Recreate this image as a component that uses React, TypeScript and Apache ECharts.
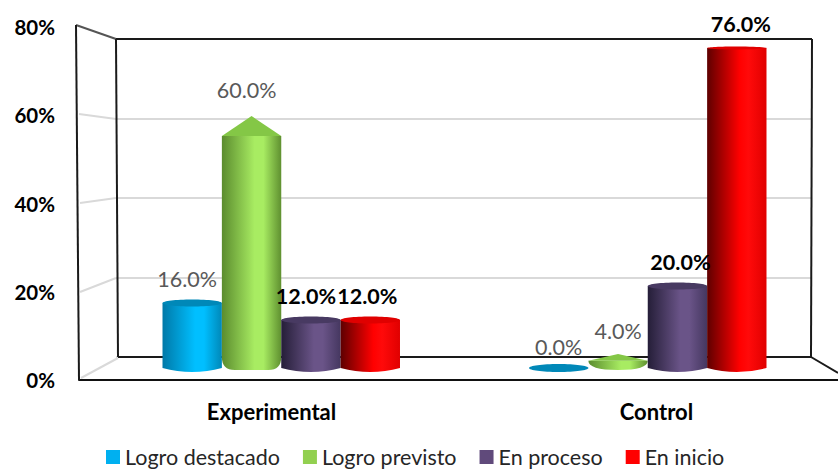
import React, { useEffect, useRef } from "react";
import * as echarts from "echarts";

const categories = ["Experimental", "Control"];
const seriesNames = ["Logro destacado", "Logro previsto", "En proceso", "En inicio"];
const logroDestacado = [16, 0];
const logroPrevisto = [60, 4];
const enProceso = [12, 20];
const enInicio = [12, 76];
const yTicks = [0, 20, 40, 60, 80];
const legendColors = ["#00b0f0", "#92d050", "#604a7b", "#ff0000"];
const bodyStops = [
  ["#0079a8", "#00bfff", "#00bfff", "#0088b8"],
  ["#5b8c2e", "#a8ec62", "#a8ec62", "#5f9030"],
  ["#251e38", "#6a5488", "#6a5488", "#453760"],
  ["#5e0000", "#ff0000", "#ff0a0a", "#e00000"],
];
const topColors = ["#0088b8", "#84c746", "#483a62", "#e00000"];
const labelBold = [false, false, true, true];
const labelShift = [
  [-5, -5, -5, -3],
  [0, 0, 3, 4],
];

const FONT = "Lato, Carlito, sans-serif";

function gradient(stops: string[]) {
  return new echarts.graphic.LinearGradient(0, 0, 1, 0, [
    { offset: 0, color: stops[0] },
    { offset: 0.55, color: stops[1] },
    { offset: 0.7, color: stops[2] },
    { offset: 1, color: stops[3] },
  ]);
}

function renderBar(s: number) {
  return (_params: any, api: any) => {
    const catIdx = api.value(0);
    const v = api.value(1);
    const [cx0, yv] = api.coord([catIdx, v]);
    const [, y0] = api.coord([catIdx, 0]);
    const w = api.size([1, 0])[0] * 0.162;
    const cx = cx0 + (s - 1.5) * w;
    const x1 = cx - w / 2;
    const x2 = cx + w / 2;
    const yBase = y0 - 3;
    const children: any[] = [];
    const isBold = labelBold[s];
    let labelY = yv - 24;

    if (v === 0) {
      children.push({
        type: "ellipse",
        shape: { cx, cy: yBase, rx: w / 2, ry: 4 },
        style: { fill: topColors[s] },
      });
    } else if (s === 1) {
      const h = y0 - yv;
      const coneH = Math.min(20, h * 0.4);
      const ys = yv + coneH;
      const yB = y0 - 1;
      const small = h < 40;
      const rx = small ? w / 2 : 13;
      const ry = small ? yB - ys : 13;
      const d =
        `M${x1} ${ys}L${x1} ${yB - ry}Q${x1} ${yB} ${x1 + rx} ${yB}` +
        `L${x2 - rx} ${yB}Q${x2} ${yB} ${x2} ${yB - ry}L${x2} ${ys}Z`;
      children.push({
        type: "path",
        shape: { pathData: d },
        style: { fill: gradient(bodyStops[s]) },
      });
      children.push({
        type: "polygon",
        shape: { points: [[cx, yv], [x1, ys], [x2, ys]] },
        style: { fill: topColors[s] },
      });
      labelY = yv - (small ? 23 : 26);
    } else {
      const ry = v > 50 ? 1.5 : 3.5;
      const d =
        `M${x1} ${yv}L${x1} ${yBase}Q${cx} ${yBase + 8} ${x2} ${yBase}L${x2} ${yv}Z`;
      children.push({
        type: "path",
        shape: { pathData: d },
        style: { fill: gradient(bodyStops[s]) },
      });
      children.push({
        type: "ellipse",
        shape: { cx, cy: yv, rx: w / 2, ry },
        style: { fill: topColors[s] },
      });
    }
    children.push({
      type: "text",
      x: cx + labelShift[catIdx][s],
      y: labelY,
      z2: 100,
      style: {
        text: v.toFixed(1) + "%",
        align: "center",
        verticalAlign: "middle",
        fill: isBold ? "#000000" : "#595959",
        font: `${isBold ? "bold " : ""}21.5px ${FONT}`,
      },
    });
    return { type: "group", children };
  };
}

const wallLines: number[][] = [
  [76, 25, 116, 39],
  [79, 114, 116, 119],
  [80, 203, 116, 198],
  [80, 292, 116, 278],
  [81, 378, 118, 358],
];
const frameLines: number[][] = [
  [76, 25, 79, 380],
  [116, 39, 118, 357],
  [116, 39, 812, 39],
  [812, 39, 811, 357],
  [118, 357, 811, 357],
  [811, 357, 838, 373],
];

export default function App() {
  const ref = useRef<HTMLDivElement>(null);
  useEffect(() => {
    document.body.style.margin = "0";
    const chart = echarts.init(ref.current!, undefined, { renderer: "svg" });
    const data = [logroDestacado, logroPrevisto, enProceso, enInicio];
    chart.setOption({
      animation: false,
      backgroundColor: "#ffffff",
      grid: [
        { left: 79, width: 770, top: 27, height: 353, outerBoundsMode: "none" },
        { left: 116, width: 696, top: 39, height: 318, outerBoundsMode: "none" },
        { left: 98, width: 733, top: 31, height: 340, outerBoundsMode: "none" },
      ],
      xAxis: [
        {
          gridIndex: 0,
          type: "category",
          data: categories,
          axisTick: { show: false },
          axisLine: { show: true, lineStyle: { color: "#111111", width: 2 } },
          axisLabel: {
            color: "#000000",
            fontFamily: FONT,
            fontWeight: "bold",
            fontSize: 22,
            margin: 20,
          },
        },
        { gridIndex: 1, type: "category", data: categories, show: false },
        { gridIndex: 2, type: "category", data: categories, show: false },
      ],
      yAxis: [
        {
          gridIndex: 0,
          type: "value",
          min: yTicks[0],
          max: yTicks[yTicks.length - 1],
          interval: 20,
          axisLine: { show: false },
          axisTick: { show: false },
          splitLine: { show: false },
          axisLabel: {
            formatter: "{value}%",
            color: "#000000",
            fontFamily: FONT,
            fontWeight: "bold",
            fontSize: 20.5,
            margin: 24,
          },
        },
        {
          gridIndex: 1,
          type: "value",
          min: 0,
          max: 80,
          interval: 20,
          axisLine: { show: false },
          axisTick: { show: false },
          axisLabel: { show: false },
          splitLine: { show: true, lineStyle: { color: "#d9d9d9", width: 2 } },
        },
        {
          gridIndex: 2,
          type: "value",
          min: 0,
          max: 80,
          interval: 20,
          show: false,
          splitLine: { show: false },
        },
      ],
      legend: {
        left: 106,
        top: 446,
        itemWidth: 14,
        itemHeight: 14,
        itemGap: 23,
        padding: 0,
        icon: "rect",
        data: seriesNames,
        textStyle: { color: "#262626", fontFamily: FONT, fontSize: 21.5 },
      },
      graphic: [
        ...wallLines.map((l) => ({
          type: "line",
          z: 1,
          shape: { x1: l[0], y1: l[1], x2: l[2], y2: l[3] },
          style: { stroke: l === wallLines[0] ? "#555555" : "#d9d9d9", lineWidth: 2 },
        })),
        ...frameLines.map((l) => ({
          type: "line",
          z: 1,
          shape: { x1: l[0], y1: l[1], x2: l[2], y2: l[3] },
          style: { stroke: "#1a1a1a", lineWidth: 2 },
        })),
      ],
      series: seriesNames.map((name, s) => ({
        name,
        type: "custom",
        xAxisIndex: 2,
        yAxisIndex: 2,
        encode: { x: 0, y: 1 },
        itemStyle: { color: legendColors[s] },
        clip: false,
        renderItem: renderBar(s),
        data: data[s].map((v, i) => [i, v]),
      })),
    });
    return () => chart.dispose();
  }, []);
  return <div ref={ref} style={{ width: 838, height: 470 }} />;
}
